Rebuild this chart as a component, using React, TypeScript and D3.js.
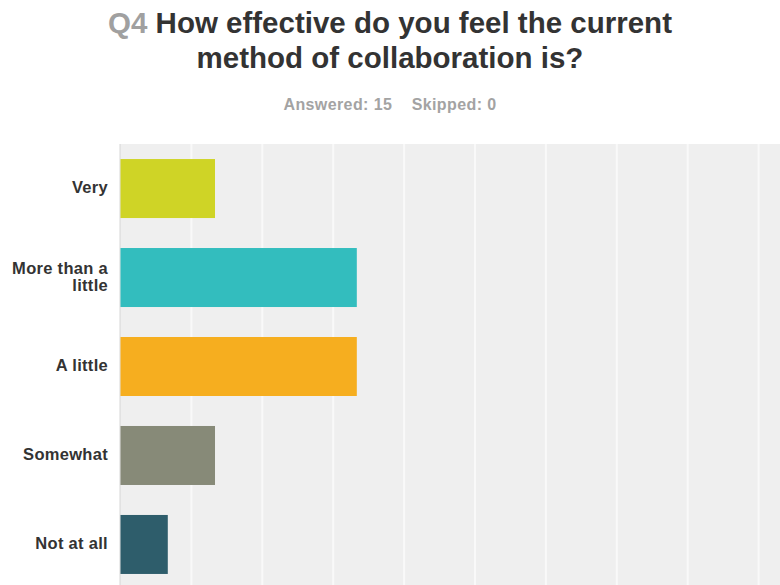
import React from "react";
import * as d3 from "d3";

const categories: string[][] = [["Very"], ["More than a", "little"], ["A little"], ["Somewhat"], ["Not at all"]];
const values: number[] = [13.33, 33.33, 33.33, 13.33, 6.67];
const colors: string[] = ["#cfd426", "#33bdbe", "#f6ae1f", "#878a78", "#2e5d6b"];
const gridTicks: number[] = [10, 20, 30, 40, 50, 60, 70, 80, 90, 100];

const W = 780;
const H = 585;

export default function App() {
  const x = d3.scaleLinear().domain([0, 100]).range([120.5, 829.5]);
  const keys = categories.map((c) => c.join(" "));
  const y = d3
    .scaleBand<string>()
    .domain(keys)
    .range([144, 589])
    .paddingInner(0.337)
    .paddingOuter(0.169);

  return (
    <svg
      width={W}
      height={H}
      style={{ position: "absolute", left: 0, top: 0, background: "#fff" }}
      fontFamily="'Liberation Sans', Arial, sans-serif"
    >
      <text x={390} y={33} textAnchor="middle" fontSize={29.5} fontWeight="bold" fill="#333">
        <tspan fill="#a0a0a0">Q4</tspan> How effective do you feel the current
      </text>
      <text x={390} y={68} textAnchor="middle" fontSize={29.5} fontWeight="bold" fill="#333">
        method of collaboration is?
      </text>
      <text x={390} y={110} textAnchor="middle" fontSize={16} fontWeight="bold" fill="#a3a3a3" letterSpacing={0.4}>
        Answered: 15{"\u00a0\u00a0\u00a0\u00a0"}Skipped: 0
      </text>

      <rect x={120} y={144} width={W - 120} height={H - 144} fill="#efefef" />
      {gridTicks.map((t) => (
        <line key={t} x1={x(t)} x2={x(t)} y1={144} y2={H} stroke="#f9f9f9" strokeWidth={2} />
      ))}
      <line x1={120} x2={120} y1={144} y2={H} stroke="#d6d6d6" strokeWidth={1} />

      {keys.map((k, i) => (
        <rect
          key={k}
          x={x(0)}
          y={y(k)!}
          width={x(values[i]) - x(0)}
          height={y.bandwidth()}
          fill={colors[i]}
        />
      ))}

      {categories.map((lines, i) => {
        const cy = y(keys[i])! + y.bandwidth() / 2;
        const lh = 17;
        const start = cy - ((lines.length - 1) * lh) / 2;
        return (
          <text key={keys[i]} textAnchor="end" fontSize={16.5} fontWeight="bold" fill="#333" letterSpacing={0.3}>
            {lines.map((ln, j) => (
              <tspan key={j} x={108} y={start + j * lh} dy="0.3em">
                {ln}
              </tspan>
            ))}
          </text>
        );
      })}
    </svg>
  );
}
